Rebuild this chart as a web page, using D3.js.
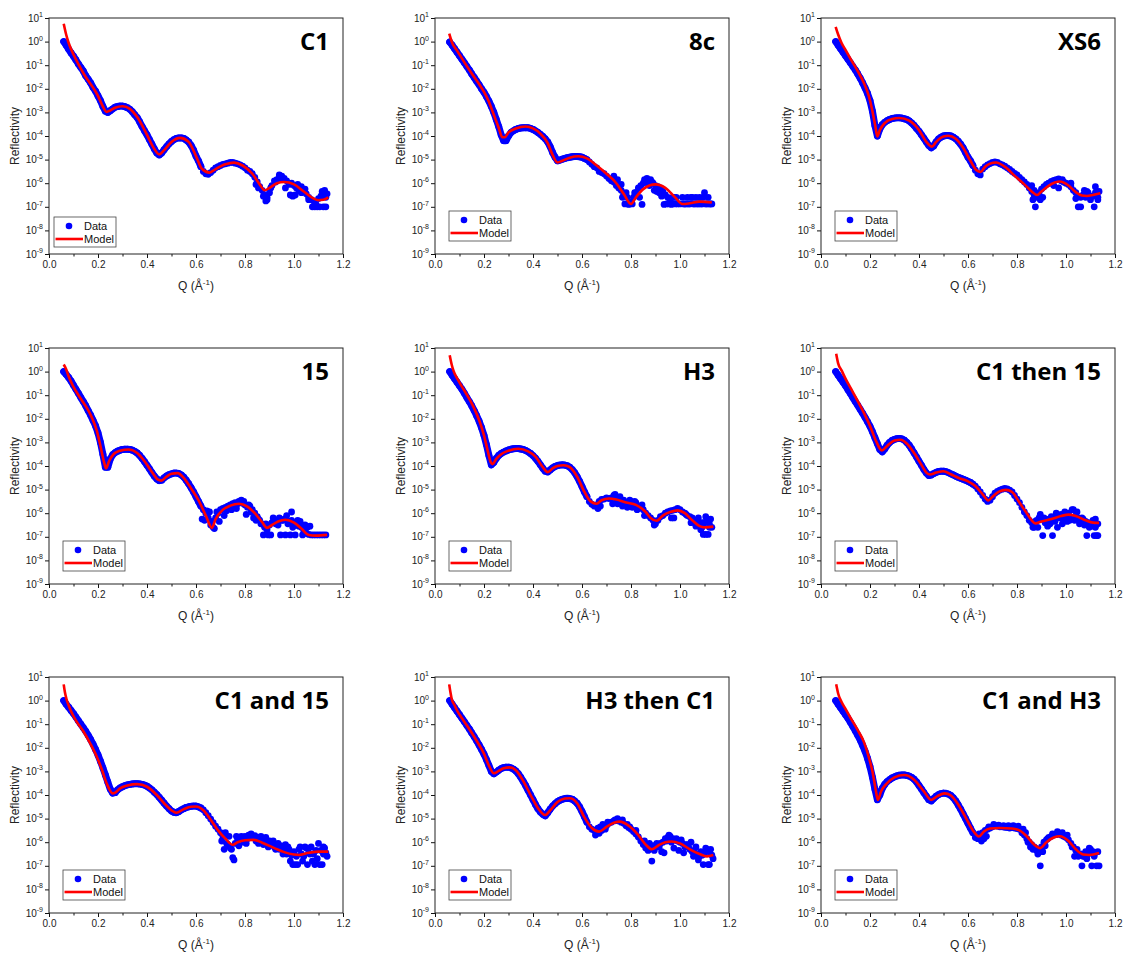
<!DOCTYPE html>
<html><head><meta charset="utf-8">
<script src="https://cdn.jsdelivr.net/npm/d3@7"></script>
<style>body{margin:0;background:#fff}</style>
</head><body><svg id="c" width="1126" height="956"></svg>
<script>
// Q grid of the data points (Å^-1)
const qGrid = [
0.06,0.07,0.08,0.09,0.10,0.11,0.12,0.13,0.14,0.15,
0.16,0.17,0.18,0.19,0.20,0.21,0.22,0.23,0.24,0.25,
0.26,0.27,0.28,0.29,0.30,0.31,0.32,0.33,0.34,0.35,
0.36,0.37,0.38,0.39,0.40,0.41,0.42,0.43,0.44,0.45,
0.46,0.47,0.48,0.49,0.50,0.51,0.52,0.53,0.54,0.55,
0.56,0.57,0.58,0.59,0.60,0.61,0.62,0.63,0.64,0.65,
0.66,0.67,0.68,0.69,0.70,0.71,0.72,0.73,0.74,0.75,
0.76,0.77,0.78,0.79,0.80,0.81,0.82,0.83,0.84,0.85,
0.86,0.87,0.88,0.89,0.90,0.91,0.92,0.93,0.94,0.95,
0.96,0.97,0.98,0.99,1.00,1.01,1.02,1.03,1.04,1.05,
1.06,1.07,1.08,1.09,1.10,1.11,1.12,1.13];

const xTicks = [0, 0.2, 0.4, 0.6, 0.8, 1.0, 1.2];
const xMinorTicks = [0.1, 0.3, 0.5, 0.7, 0.9, 1.1];
const yExponents = [1, 0, -1, -2, -3, -4, -5, -6, -7, -8, -9];

// ---- data: log10(Reflectivity) at qGrid ----
const dataC1 = [
0,-0.15,-0.32,-0.48,-0.62,-0.78,-0.95,-1.1,-1.25,-1.45,
-1.6,-1.75,-1.95,-2.1,-2.3,-2.5,-2.75,-2.95,-3.0,-2.93,
-2.85,-2.78,-2.75,-2.73,-2.73,-2.76,-2.8,-2.87,-2.97,-3.1,
-3.22,-3.4,-3.6,-3.78,-3.95,-4.15,-4.35,-4.55,-4.72,-4.8,
-4.72,-4.58,-4.45,-4.33,-4.23,-4.15,-4.1,-4.08,-4.08,-4.1,
-4.17,-4.25,-4.4,-4.6,-4.85,-5.05,-5.3,-5.5,-5.6,-5.62,
-5.55,-5.45,-5.35,-5.3,-5.25,-5.2,-5.18,-5.15,-5.12,-5.12,
-5.15,-5.18,-5.22,-5.28,-5.35,-5.45,-5.5,-5.6,-5.75,-5.95,
-6.15,-6.3,-6.5,-6.7,-6.4,-6.1,-5.9,-5.85,-5.75,-5.7,
-5.8,-5.9,-6.05,-6.0,-6.1,-6.2,-6.3,-6.4,-6.3,-6.45,
-6.6,-6.7,-6.75,-6.9,-6.65,-6.55,-6.5,-6.6];
const data8c = [
-0.02,-0.15,-0.3,-0.45,-0.6,-0.75,-0.9,-1.05,-1.2,-1.37,
-1.52,-1.68,-1.83,-2.0,-2.15,-2.33,-2.52,-2.75,-3.0,-3.3,
-3.6,-3.95,-4.2,-4.2,-4.0,-3.85,-3.78,-3.72,-3.68,-3.66,
-3.65,-3.65,-3.65,-3.68,-3.72,-3.78,-3.85,-3.93,-4.02,-4.12,
-4.25,-4.45,-4.7,-4.9,-5.05,-5.02,-4.98,-4.95,-4.92,-4.9,
-4.88,-4.87,-4.87,-4.88,-4.9,-4.95,-5.0,-5.1,-5.2,-5.3,
-5.35,-5.5,-5.55,-5.6,-5.7,-5.8,-5.9,-5.95,-6.1,-6.2,
-6.3,-6.5,-6.4,-6.9,-6.8,-6.6,-6.4,-6.2,-6.1,-6.0,
-5.95,-5.9,-5.85,-6.0,-6.1,-6.15,-6.2,-6.35,-6.5,-6.6,
-6.75,-6.6,-6.88,-6.88,-6.88,-6.6,-6.88,-6.6,-6.88,-6.6,
-6.88,-6.88,-6.6,-6.88,-6.4,-6.88,-6.88,-6.88];
const dataXS6 = [
0.0,-0.15,-0.3,-0.45,-0.6,-0.75,-0.9,-1.05,-1.2,-1.37,
-1.55,-1.75,-1.97,-2.2,-2.5,-2.95,-3.55,-4.0,-3.7,-3.52,
-3.42,-3.35,-3.3,-3.26,-3.24,-3.23,-3.23,-3.24,-3.27,-3.3,
-3.36,-3.45,-3.55,-3.68,-3.8,-3.95,-4.1,-4.25,-4.4,-4.5,
-4.42,-4.25,-4.12,-4.05,-4.0,-3.98,-3.98,-4.0,-4.05,-4.12,
-4.22,-4.35,-4.5,-4.7,-4.9,-5.05,-5.25,-5.45,-5.6,-5.65,
-5.4,-5.3,-5.22,-5.17,-5.12,-5.1,-5.12,-5.18,-5.22,-5.28,
-5.35,-5.42,-5.5,-5.58,-5.65,-5.75,-5.85,-5.95,-6.05,-6.2,
-6.35,-6.5,-6.6,-6.4,-6.25,-6.15,-6.05,-6.0,-5.92,-5.88,
-5.85,-5.82,-5.9,-5.95,-6.0,-6.05,-6.15,-6.3,-6.4,-6.55,
-6.6,-6.5,-6.6,-6.4,-6.7,-6.55,-6.4,-6.6];
const data15 = [
0.0,-0.12,-0.25,-0.4,-0.58,-0.75,-0.92,-1.1,-1.27,-1.45,
-1.65,-1.85,-2.07,-2.3,-2.6,-3.0,-3.5,-4.05,-4.05,-3.7,
-3.52,-3.43,-3.37,-3.33,-3.3,-3.29,-3.29,-3.3,-3.33,-3.38,
-3.45,-3.55,-3.68,-3.82,-3.97,-4.12,-4.28,-4.43,-4.55,-4.62,
-4.6,-4.5,-4.42,-4.37,-4.33,-4.3,-4.3,-4.32,-4.38,-4.47,
-4.6,-4.75,-4.92,-5.1,-5.3,-5.5,-5.7,-5.85,-6.0,-6.2,
-6.5,-6.6,-6.2,-6.0,-5.85,-5.8,-5.75,-5.7,-5.65,-5.6,
-5.55,-5.6,-5.5,-5.58,-5.65,-5.75,-5.7,-5.85,-6.0,-6.15,
-6.3,-6.45,-6.6,-6.7,-6.5,-6.4,-6.3,-6.35,-6.2,-6.3,
-6.25,-6.1,-6.35,-6.3,-6.4,-6.5,-6.55,-6.6,-6.75,-6.85,
-6.9,-6.92,-6.92,-6.92,-6.92,-6.92,-6.92,-6.92];
const dataH3 = [
0.0,-0.15,-0.3,-0.45,-0.6,-0.75,-0.92,-1.1,-1.27,-1.45,
-1.65,-1.87,-2.1,-2.38,-2.7,-3.1,-3.55,-3.95,-3.85,-3.68,
-3.55,-3.47,-3.41,-3.36,-3.32,-3.29,-3.27,-3.26,-3.26,-3.28,
-3.3,-3.34,-3.4,-3.47,-3.56,-3.67,-3.8,-3.95,-4.1,-4.22,
-4.25,-4.17,-4.08,-4.02,-3.98,-3.96,-3.95,-3.96,-3.99,-4.05,
-4.15,-4.28,-4.45,-4.65,-4.87,-5.1,-5.3,-5.5,-5.62,-5.7,
-5.65,-5.5,-5.42,-5.4,-5.35,-5.38,-5.35,-5.25,-5.4,-5.42,
-5.5,-5.45,-5.55,-5.6,-5.5,-5.62,-5.55,-5.7,-5.75,-5.85,
-6.0,-6.1,-6.2,-6.3,-6.45,-6.3,-6.15,-6.1,-6.0,-5.95,
-5.9,-5.88,-5.85,-5.8,-5.85,-5.95,-6.0,-6.1,-6.15,-6.2,
-6.3,-6.45,-6.5,-6.6,-6.4,-6.3,-6.45,-6.6];
const dataC1then15 = [
0.0,-0.15,-0.3,-0.45,-0.6,-0.77,-0.93,-1.1,-1.27,-1.43,
-1.6,-1.77,-1.95,-2.13,-2.32,-2.55,-2.8,-3.05,-3.3,-3.4,
-3.28,-3.12,-3.0,-2.92,-2.87,-2.84,-2.83,-2.85,-2.9,-3.0,
-3.12,-3.28,-3.45,-3.62,-3.8,-3.97,-4.15,-4.3,-4.4,-4.38,
-4.32,-4.27,-4.23,-4.22,-4.22,-4.24,-4.28,-4.33,-4.38,-4.43,
-4.48,-4.52,-4.56,-4.6,-4.65,-4.7,-4.77,-4.85,-4.97,-5.1,
-5.25,-5.4,-5.5,-5.45,-5.3,-5.15,-5.08,-5.02,-4.98,-4.95,
-4.97,-5.02,-5.1,-5.25,-5.4,-5.55,-5.75,-5.95,-6.1,-6.3,
-6.4,-6.6,-6.3,-6.2,-6.25,-6.2,-6.3,-6.25,-6.15,-6.2,
-6.0,-6.1,-6.05,-6.2,-6.1,-6.0,-6.25,-5.85,-6.1,-6.2,
-6.3,-6.25,-6.35,-6.4,-6.5,-6.3,-6.6,-6.45];
const dataC1and15 = [
0.0,-0.15,-0.28,-0.42,-0.55,-0.7,-0.85,-1.0,-1.15,-1.3,
-1.47,-1.65,-1.85,-2.07,-2.3,-2.57,-2.85,-3.15,-3.45,-3.75,
-3.92,-3.9,-3.78,-3.7,-3.65,-3.6,-3.57,-3.55,-3.53,-3.52,
-3.52,-3.53,-3.55,-3.58,-3.63,-3.7,-3.78,-3.88,-3.98,-4.1,
-4.22,-4.35,-4.47,-4.58,-4.68,-4.73,-4.75,-4.7,-4.63,-4.58,
-4.53,-4.5,-4.48,-4.47,-4.47,-4.5,-4.55,-4.63,-4.75,-4.88,
-5.02,-5.17,-5.32,-5.45,-5.6,-5.75,-5.6,-6.1,-6.25,-6.65,
-6.05,-5.9,-5.85,-5.8,-5.75,-5.85,-5.7,-5.8,-5.72,-5.8,
-5.9,-5.85,-5.95,-6.05,-5.95,-6.1,-6.2,-6.1,-6.3,-6.25,
-6.4,-6.5,-6.3,-6.55,-6.4,-6.6,-6.3,-6.5,-6.6,-6.25,
-6.45,-6.2,-6.5,-6.35,-6.05,-6.35,-6.2,-6.45];
const dataH3thenC1 = [
0.0,-0.15,-0.3,-0.45,-0.6,-0.75,-0.9,-1.05,-1.2,-1.37,
-1.53,-1.7,-1.88,-2.07,-2.27,-2.5,-2.75,-3.0,-3.1,-3.03,
-2.95,-2.88,-2.84,-2.82,-2.82,-2.85,-2.9,-2.98,-3.1,-3.25,
-3.42,-3.6,-3.8,-4.0,-4.2,-4.4,-4.58,-4.72,-4.82,-4.88,
-4.75,-4.6,-4.47,-4.37,-4.28,-4.22,-4.18,-4.15,-4.14,-4.15,
-4.18,-4.25,-4.35,-4.5,-4.7,-4.92,-5.15,-5.35,-5.45,-5.5,
-5.6,-5.62,-5.5,-5.35,-5.3,-5.2,-5.15,-5.1,-5.08,-5.1,
-5.15,-5.2,-5.3,-5.38,-5.45,-5.55,-5.65,-5.78,-5.95,-6.1,
-6.25,-6.35,-6.25,-6.15,-6.2,-6.1,-6.05,-6.0,-5.85,-5.8,
-5.75,-5.85,-5.9,-5.95,-6.0,-6.05,-6.2,-6.1,-6.3,-6.4,
-6.45,-6.5,-6.6,-6.55,-6.5,-6.3,-6.4,-6.55];
const dataC1andH3 = [
0.0,-0.15,-0.3,-0.45,-0.6,-0.75,-0.92,-1.1,-1.28,-1.47,
-1.67,-1.9,-2.15,-2.45,-2.8,-3.25,-3.75,-4.2,-4.0,-3.72,
-3.55,-3.43,-3.35,-3.28,-3.23,-3.19,-3.16,-3.15,-3.15,-3.17,
-3.2,-3.25,-3.33,-3.45,-3.6,-3.75,-3.9,-4.05,-4.2,-4.25,
-4.15,-4.05,-3.98,-3.94,-3.92,-3.93,-3.96,-4.02,-4.12,-4.25,
-4.42,-4.6,-4.8,-5.0,-5.2,-5.4,-5.6,-5.8,-5.85,-5.8,
-5.6,-5.5,-5.45,-5.4,-5.35,-5.3,-5.32,-5.35,-5.35,-5.37,
-5.38,-5.4,-5.38,-5.4,-5.42,-5.45,-5.6,-5.7,-5.85,-6.0,
-6.1,-6.2,-6.35,-6.3,-6.2,-6.0,-5.9,-5.8,-5.75,-5.7,
-5.68,-5.65,-5.7,-5.75,-5.8,-5.9,-6.05,-6.2,-6.35,-6.6,
-6.5,-6.6,-6.4,-6.5,-6.3,-6.4,-6.45,-6.4];

// ---- extra scattered data points [Q, log10 R] ----
const extraC1 = [[0.845,-6.05],[0.855,-6.2],[0.875,-6.55],[0.885,-6.75],[0.89,-6.6],[0.905,-6.2],[0.925,-5.95],[0.94,-5.65],[0.95,-5.8],[0.965,-6.2],[0.985,-6.5],[0.995,-6.55],[1.005,-6.5],[1.015,-6.05],[1.03,-6.15],[1.045,-6.25],[1.06,-6.7],[1.075,-7.0],[1.085,-7.0],[1.095,-7.0],[1.105,-7.0],[1.12,-7.0],[1.13,-7.0],[1.115,-6.35],[1.125,-6.3],[1.135,-6.45]];
const extra8c = [[0.73,-5.7],[0.745,-5.85],[0.76,-6.05],[0.765,-6.6],[0.775,-6.88],[0.785,-6.6],[0.795,-6.88],[0.805,-6.88],[0.815,-6.4],[0.835,-6.6],[0.845,-6.9],[0.855,-5.85],[0.865,-5.8],[0.875,-6.1],[0.885,-5.95],[0.895,-6.3],[0.905,-6.35],[0.915,-6.4],[0.925,-6.55],[0.935,-6.9],[0.945,-6.88],[0.955,-6.88],[0.965,-6.9],[0.975,-6.6],[0.985,-6.6],[1.015,-6.88],[1.025,-6.88],[1.035,-6.88],[1.045,-6.6],[1.055,-6.88],[1.065,-6.6],[1.075,-6.88],[1.085,-6.88],[1.095,-6.6],[1.105,-6.88],[1.115,-6.6],[1.125,-6.88]];
const extraXS6 = [[0.86,-6.1],[0.865,-6.7],[0.87,-6.3],[0.875,-7.0],[0.885,-6.45],[0.895,-6.7],[0.905,-6.6],[0.93,-6.0],[0.95,-6.1],[0.97,-6.2],[0.985,-5.85],[1.02,-6.0],[1.04,-6.65],[1.05,-7.0],[1.06,-7.0],[1.075,-6.3],[1.085,-6.35],[1.1,-6.55],[1.115,-7.0],[1.12,-6.15],[1.13,-6.7],[1.135,-6.35]];
const extra15 = [[0.625,-6.25],[0.635,-6.3],[0.645,-5.9],[0.655,-5.95],[0.665,-6.35],[0.675,-6.65],[0.685,-5.95],[0.695,-6.35],[0.705,-5.85],[0.715,-6.1],[0.725,-5.9],[0.735,-5.75],[0.745,-5.85],[0.755,-5.7],[0.765,-5.8],[0.775,-5.5],[0.785,-5.45],[0.795,-5.5],[0.805,-6.05],[0.815,-5.65],[0.825,-5.95],[0.835,-6.2],[0.845,-6.3],[0.855,-6.25],[0.865,-6.45],[0.875,-6.92],[0.885,-6.45],[0.895,-6.92],[0.905,-6.92],[0.915,-6.2],[0.925,-6.45],[0.935,-6.5],[0.945,-6.92],[0.955,-6.3],[0.965,-6.92],[0.975,-6.45],[0.985,-6.92],[0.99,-5.95],[0.995,-6.6],[1.005,-6.92],[1.015,-6.3],[1.025,-6.35],[1.035,-6.92],[1.045,-6.5],[1.055,-6.6],[1.065,-6.55]];
const extraH3 = [[0.665,-5.8],[0.675,-5.7],[0.725,-5.6],[0.735,-5.2],[0.745,-5.6],[0.755,-5.3],[0.765,-5.7],[0.785,-5.75],[0.795,-5.45],[0.805,-5.75],[0.815,-5.5],[0.825,-5.85],[0.845,-5.65],[0.855,-6.1],[0.895,-6.5],[0.965,-6.2],[0.975,-6.2],[1.025,-6.05],[1.045,-6.4],[1.055,-6.35],[1.065,-6.55],[1.075,-6.2],[1.085,-6.7],[1.09,-6.4],[1.095,-6.9],[1.105,-6.9],[1.105,-6.15],[1.115,-6.9],[1.12,-6.6],[1.125,-6.25]];
const extraC1then15 = [[0.865,-6.6],[0.875,-6.35],[0.885,-6.6],[0.895,-6.05],[0.905,-6.95],[0.915,-6.4],[0.925,-6.55],[0.935,-6.45],[0.945,-6.95],[0.955,-6.35],[0.965,-6.6],[0.975,-6.2],[0.985,-6.45],[0.995,-5.95],[1.005,-6.35],[1.015,-6.3],[1.025,-5.85],[1.035,-6.3],[1.045,-5.95],[1.055,-6.45],[1.065,-6.2],[1.075,-6.5],[1.085,-6.95],[1.095,-6.6],[1.105,-6.55],[1.115,-6.95],[1.12,-6.25],[1.125,-6.95],[1.13,-6.95]];
const extraC1and15 = [[0.705,-5.95],[0.715,-6.3],[0.725,-6.05],[0.735,-5.75],[0.745,-6.3],[0.755,-6.75],[0.765,-5.75],[0.775,-6.15],[0.785,-5.75],[0.795,-6.0],[0.805,-6.05],[0.815,-5.7],[0.825,-5.65],[0.845,-5.95],[0.855,-6.05],[0.865,-5.75],[0.875,-6.1],[0.885,-5.8],[0.895,-6.2],[0.905,-6.05],[0.915,-5.95],[0.925,-6.3],[0.935,-6.05],[0.945,-6.15],[0.955,-6.5],[0.965,-6.1],[0.975,-6.2],[0.985,-6.8],[0.995,-6.95],[1.005,-6.95],[1.015,-6.95],[1.025,-6.2],[1.035,-6.8],[1.045,-6.2],[1.055,-6.95],[1.065,-6.5],[1.075,-6.8],[1.085,-6.95],[1.095,-6.7],[1.105,-6.95],[1.115,-6.95],[1.12,-6.5],[1.125,-6.25],[1.135,-6.6]];
const extraH3thenC1 = [[0.655,-5.7],[0.665,-5.4],[0.675,-5.35],[0.685,-5.25],[0.695,-5.45],[0.705,-5.15],[0.735,-5.05],[0.745,-5.0],[0.765,-5.05],[0.785,-5.25],[0.795,-5.35],[0.82,-5.5],[0.855,-5.95],[0.865,-6.2],[0.875,-6.05],[0.885,-6.8],[0.895,-6.35],[0.905,-6.05],[0.915,-6.2],[0.925,-6.4],[0.935,-6.45],[0.945,-5.95],[0.955,-5.7],[0.965,-6.0],[0.975,-6.25],[0.985,-5.85],[0.995,-6.35],[1.005,-5.9],[1.015,-6.45],[1.025,-6.1],[1.035,-6.2],[1.045,-6.0],[1.055,-6.6],[1.065,-6.2],[1.075,-6.75],[1.085,-6.4],[1.095,-6.95],[1.105,-6.25],[1.115,-6.95],[1.12,-6.95],[1.125,-6.3],[1.135,-6.7]];
const extraC1andH3 = [[0.645,-5.65],[0.655,-5.95],[0.665,-5.85],[0.675,-5.75],[0.685,-5.35],[0.705,-5.25],[0.725,-5.28],[0.745,-5.3],[0.765,-5.3],[0.785,-5.3],[0.805,-5.32],[0.825,-5.45],[0.835,-5.6],[0.845,-6.0],[0.855,-6.2],[0.865,-6.3],[0.875,-6.25],[0.885,-6.5],[0.895,-7.0],[0.905,-6.4],[0.915,-6.15],[0.925,-5.85],[0.945,-5.65],[0.965,-5.55],[0.985,-5.6],[1.005,-5.7],[1.025,-6.2],[1.035,-6.6],[1.045,-6.3],[1.055,-6.55],[1.065,-7.0],[1.075,-6.6],[1.085,-6.7],[1.095,-6.25],[1.105,-7.0],[1.115,-6.6],[1.125,-7.0],[1.135,-7.0]];

// ---- model curves [Q, log10 R] ----
const modelC1 = [[0.06,0.76],[0.07,0.3],[0.08,-0.05],[0.10,-0.55],[0.12,-0.95],[0.15,-1.5],[0.18,-1.95],[0.20,-2.3],[0.22,-2.75],[0.235,-2.98],[0.25,-2.92],[0.27,-2.80],[0.30,-2.74],[0.33,-2.85],[0.36,-3.2],[0.40,-3.95],[0.43,-4.55],[0.45,-4.78],[0.47,-4.6],[0.50,-4.25],[0.535,-4.08],[0.57,-4.25],[0.60,-4.85],[0.625,-5.4],[0.655,-5.55],[0.68,-5.4],[0.72,-5.2],[0.755,-5.13],[0.79,-5.25],[0.83,-5.6],[0.86,-6.05],[0.88,-6.3],[0.90,-6.2],[0.93,-6.0],[0.96,-5.95],[1.00,-6.05],[1.04,-6.35],[1.08,-6.65],[1.10,-6.72],[1.12,-6.7],[1.14,-6.6]];
const model8c = [[0.058,0.34],[0.065,0.1],[0.07,-0.05],[0.09,-0.38],[0.12,-0.88],[0.15,-1.35],[0.18,-1.8],[0.20,-2.13],[0.22,-2.55],[0.24,-3.1],[0.26,-3.65],[0.275,-4.05],[0.285,-4.05],[0.30,-3.85],[0.33,-3.68],[0.37,-3.6],[0.40,-3.68],[0.43,-3.9],[0.46,-4.3],[0.48,-4.8],[0.50,-5.12],[0.52,-5.05],[0.55,-4.92],[0.585,-4.86],[0.62,-4.95],[0.66,-5.25],[0.70,-5.6],[0.74,-6.0],[0.77,-6.45],[0.80,-6.88],[0.82,-6.6],[0.85,-6.25],[0.90,-6.05],[0.94,-6.2],[0.98,-6.6],[1.01,-6.88],[1.04,-6.85],[1.08,-6.78],[1.13,-6.82]];
const modelXS6 = [[0.06,0.62],[0.07,0.3],[0.084,-0.06],[0.10,-0.35],[0.12,-0.72],[0.15,-1.25],[0.175,-1.75],[0.195,-2.3],[0.21,-2.95],[0.222,-3.6],[0.23,-4.02],[0.24,-3.75],[0.26,-3.45],[0.29,-3.28],[0.32,-3.24],[0.36,-3.35],[0.40,-3.75],[0.43,-4.25],[0.453,-4.45],[0.47,-4.25],[0.50,-4.02],[0.52,-3.99],[0.55,-4.12],[0.58,-4.5],[0.61,-5.05],[0.635,-5.45],[0.652,-5.52],[0.67,-5.3],[0.69,-5.17],[0.715,-5.12],[0.75,-5.3],[0.79,-5.68],[0.83,-6.05],[0.86,-6.35],[0.882,-6.5],[0.90,-6.35],[0.93,-6.1],[0.975,-5.93],[1.01,-6.1],[1.04,-6.38],[1.065,-6.52],[1.085,-6.54],[1.11,-6.5],[1.14,-6.43]];
const model15 = [[0.06,0.3],[0.07,0.1],[0.08,-0.2],[0.10,-0.65],[0.13,-1.15],[0.155,-1.55],[0.175,-1.95],[0.195,-2.5],[0.21,-3.15],[0.225,-3.85],[0.233,-4.1],[0.245,-3.8],[0.265,-3.48],[0.29,-3.35],[0.325,-3.3],[0.36,-3.45],[0.39,-3.8],[0.42,-4.25],[0.445,-4.58],[0.458,-4.62],[0.48,-4.45],[0.50,-4.33],[0.525,-4.3],[0.55,-4.5],[0.58,-4.95],[0.61,-5.45],[0.64,-6.1],[0.665,-6.62],[0.68,-6.25],[0.71,-5.85],[0.74,-5.68],[0.775,-5.6],[0.81,-5.72],[0.84,-6.0],[0.87,-6.38],[0.89,-6.62],[0.91,-6.5],[0.935,-6.35],[0.965,-6.28],[1.00,-6.4],[1.03,-6.65],[1.06,-6.92],[1.09,-6.95],[1.135,-6.92]];
const modelH3 = [[0.06,0.69],[0.068,0.3],[0.075,0.05],[0.09,-0.28],[0.105,-0.55],[0.13,-0.98],[0.155,-1.45],[0.18,-2.05],[0.20,-2.7],[0.215,-3.35],[0.228,-3.85],[0.235,-3.92],[0.25,-3.7],[0.27,-3.5],[0.30,-3.35],[0.34,-3.27],[0.38,-3.38],[0.41,-3.6],[0.44,-4.05],[0.46,-4.26],[0.48,-4.1],[0.50,-4.0],[0.525,-3.97],[0.55,-4.05],[0.58,-4.45],[0.61,-5.1],[0.635,-5.5],[0.66,-5.6],[0.68,-5.45],[0.71,-5.38],[0.74,-5.42],[0.78,-5.55],[0.82,-5.65],[0.86,-5.95],[0.88,-6.2],[0.905,-6.32],[0.93,-6.1],[0.96,-5.95],[0.99,-5.88],[1.02,-6.0],[1.05,-6.3],[1.08,-6.55],[1.10,-6.6],[1.136,-6.57]];
const modelC1then15 = [[0.062,0.76],[0.07,0.35],[0.084,0.05],[0.10,-0.3],[0.12,-0.68],[0.15,-1.25],[0.175,-1.75],[0.20,-2.3],[0.225,-2.95],[0.248,-3.34],[0.27,-3.15],[0.30,-2.92],[0.325,-2.89],[0.35,-3.05],[0.38,-3.45],[0.41,-3.95],[0.43,-4.28],[0.445,-4.36],[0.47,-4.28],[0.50,-4.22],[0.53,-4.35],[0.56,-4.5],[0.60,-4.65],[0.63,-4.85],[0.66,-5.2],[0.683,-5.46],[0.70,-5.3],[0.725,-5.1],[0.755,-5.01],[0.78,-5.1],[0.81,-5.55],[0.84,-6.0],[0.86,-6.3],[0.875,-6.43],[0.90,-6.35],[0.94,-6.25],[0.98,-6.12],[1.01,-6.06],[1.04,-6.12],[1.08,-6.3],[1.11,-6.4],[1.135,-6.41]];
const modelC1and15 = [[0.06,0.69],[0.065,0.35],[0.071,0.08],[0.08,-0.2],[0.09,-0.45],[0.11,-0.85],[0.14,-1.3],[0.17,-1.85],[0.195,-2.38],[0.215,-2.9],[0.235,-3.5],[0.26,-3.93],[0.27,-3.9],[0.29,-3.72],[0.32,-3.6],[0.36,-3.54],[0.40,-3.65],[0.44,-4.0],[0.47,-4.35],[0.50,-4.65],[0.52,-4.75],[0.55,-4.6],[0.58,-4.5],[0.60,-4.49],[0.63,-4.65],[0.66,-5.05],[0.69,-5.5],[0.72,-5.85],[0.75,-6.11],[0.77,-6.0],[0.80,-5.92],[0.835,-5.9],[0.87,-6.02],[0.92,-6.25],[0.96,-6.42],[1.00,-6.52],[1.02,-6.54],[1.06,-6.45],[1.10,-6.4],[1.14,-6.4]];
const modelH3thenC1 = [[0.058,0.69],[0.063,0.35],[0.068,0.08],[0.08,-0.2],[0.09,-0.42],[0.11,-0.75],[0.14,-1.2],[0.17,-1.7],[0.20,-2.25],[0.22,-2.75],[0.24,-3.08],[0.26,-2.98],[0.28,-2.87],[0.305,-2.83],[0.33,-2.95],[0.36,-3.4],[0.39,-4.0],[0.42,-4.55],[0.45,-4.85],[0.47,-4.65],[0.50,-4.3],[0.53,-4.15],[0.55,-4.14],[0.58,-4.35],[0.61,-4.95],[0.64,-5.4],[0.67,-5.55],[0.70,-5.35],[0.73,-5.18],[0.755,-5.13],[0.79,-5.3],[0.83,-5.7],[0.86,-6.1],[0.885,-6.3],[0.91,-6.15],[0.94,-6.0],[0.965,-5.97],[1.00,-6.05],[1.04,-6.3],[1.08,-6.5],[1.11,-6.6],[1.136,-6.54]];
const modelC1andH3 = [[0.062,0.69],[0.07,0.3],[0.084,-0.06],[0.10,-0.35],[0.12,-0.72],[0.15,-1.25],[0.175,-1.75],[0.198,-2.5],[0.21,-3.0],[0.222,-3.7],[0.232,-4.21],[0.245,-3.85],[0.265,-3.55],[0.30,-3.25],[0.34,-3.15],[0.38,-3.35],[0.42,-3.85],[0.45,-4.21],[0.475,-4.05],[0.505,-3.93],[0.53,-4.02],[0.56,-4.4],[0.59,-4.95],[0.62,-5.5],[0.645,-5.76],[0.665,-5.55],[0.69,-5.42],[0.73,-5.4],[0.78,-5.42],[0.81,-5.5],[0.84,-5.75],[0.87,-6.1],[0.895,-6.25],[0.92,-6.0],[0.95,-5.8],[0.975,-5.75],[1.01,-5.95],[1.04,-6.3],[1.07,-6.52],[1.095,-6.54],[1.135,-6.46]];

const panelTitles = ["C1","8c","XS6","15","H3","C1 then 15","C1 and 15","H3 then C1","C1 and H3"];
const panelData = [dataC1,data8c,dataXS6,data15,dataH3,dataC1then15,dataC1and15,dataH3thenC1,dataC1andH3];
const panelExtra = [extraC1,extra8c,extraXS6,extra15,extraH3,extraC1then15,extraC1and15,extraH3thenC1,extraC1andH3];
const panelModel = [modelC1,model8c,modelXS6,model15,modelH3,modelC1then15,modelC1and15,modelH3thenC1,modelC1andH3];
const legendLabels = ["Data","Model"];

// ---- layout ----
const colX = [49, 435, 821], rowY = [18, 348, 677];
const W = 294, H = 236;
const svg = d3.select("#c");
const FONT = "'Liberation Sans', Arial, sans-serif";
const BLUE = "#0000ff", RED = "#ff0000";
const BAND_MAX_Q = 0.62; // dense, low-noise part of each data set drawn as a continuous band of markers

const x = d3.scaleLinear().domain([0, 1.2]).range([0, W]);
const y = d3.scaleLog().domain([1e-9, 1e1]).range([H, 0]);

panelTitles.forEach((title, i) => {
  const gx = colX[i % 3], gy = rowY[Math.floor(i / 3)];
  const g = svg.append("g").attr("transform", `translate(${gx},${gy})`);
  const clipId = "clip" + i;
  g.append("clipPath").attr("id", clipId).append("rect").attr("width", W).attr("height", H);

  // minor x ticks
  g.append("g").attr("transform", `translate(0,${H})`)
    .call(d3.axisBottom(x).tickValues(xMinorTicks).tickSize(2.5).tickFormat(""))
    .call(a => a.select(".domain").remove())
    .call(a => a.selectAll("line").attr("stroke", "#111"));
  // major x ticks
  const xa = g.append("g").attr("transform", `translate(0,${H})`)
    .call(d3.axisBottom(x).tickValues(xTicks).tickSize(4).tickPadding(3).tickFormat(d3.format(".1f")));
  xa.select(".domain").remove();
  xa.selectAll("text").attr("font-family", FONT).attr("font-size", 10).attr("fill", "#222");
  xa.selectAll("line").attr("stroke", "#111");

  // y ticks
  const ya = g.append("g")
    .call(d3.axisLeft(y).tickValues(yExponents.map(e => Math.pow(10, e))).tickSize(4).tickFormat(""));
  ya.select(".domain").remove();
  ya.selectAll("line").attr("stroke", "#111");
  const yl = g.append("g");
  yExponents.forEach(e => {
    const t = yl.append("text").attr("x", -6).attr("y", y(Math.pow(10, e)) + 3.5)
      .attr("text-anchor", "end").attr("font-family", FONT).attr("font-size", 10).attr("fill", "#222");
    t.append("tspan").text("10");
    t.append("tspan").attr("dy", -4.5).attr("font-size", 7).text(String(e));
  });

  const plot = g.append("g").attr("clip-path", `url(#${clipId})`);
  const main = qGrid.map((q, k) => [q, panelData[i][k]]);
  const px = d => x(d[0]), py = d => y(Math.pow(10, d[1]));
  // dense marker band (measured points are much denser than the listed grid)
  plot.append("path").attr("d", d3.line().x(px).y(py)(main.filter(d => d[0] <= BAND_MAX_Q)))
    .attr("fill", "none").attr("stroke", BLUE).attr("stroke-width", 7)
    .attr("stroke-linejoin", "round").attr("stroke-linecap", "round");
  // data points
  const pts = main.concat(panelExtra[i]);
  plot.selectAll("circle").data(pts).join("circle")
    .attr("cx", px).attr("cy", py).attr("r", 3.4).attr("fill", BLUE);
  // model
  const line = d3.line().x(px).y(py).curve(d3.curveMonotoneX);
  plot.append("path").attr("d", line(panelModel[i])).attr("fill", "none")
    .attr("stroke", RED).attr("stroke-width", 2.6).attr("stroke-linejoin", "round");

  // frame
  g.append("rect").attr("width", W).attr("height", H).attr("fill", "none")
    .attr("stroke", "#222").attr("stroke-width", 1);

  // title
  g.append("text").attr("x", W - 14).attr("y", 32).attr("text-anchor", "end")
    .attr("font-family", "'Open Sans', sans-serif").attr("font-weight", 700)
    .attr("font-size", 24).attr("fill", "#000").text(title);

  // axis titles
  g.append("text").attr("transform", `translate(-30,${H / 2}) rotate(-90)`)
    .attr("text-anchor", "middle").attr("font-family", FONT).attr("font-size", 12)
    .attr("fill", "#222").text("Reflectivity");
  const qt = g.append("text").attr("x", W / 2).attr("y", H + 36).attr("text-anchor", "middle")
    .attr("font-family", FONT).attr("font-size", 12).attr("fill", "#222");
  qt.append("tspan").text("Q (Å");
  qt.append("tspan").attr("dy", -5).attr("font-size", 8).text("-1");
  qt.append("tspan").attr("dy", 5).text(")");

  // legend
  const lx = i === 0 ? 5 : 14, ly = i === 0 ? 199 : 193;
  const lg = g.append("g").attr("transform", `translate(${lx},${ly})`);
  lg.append("rect").attr("width", 62).attr("height", 30).attr("fill", "#fff")
    .attr("stroke", "#444").attr("stroke-width", 0.8);
  lg.append("circle").attr("cx", 15).attr("cy", 9).attr("r", 3.3).attr("fill", BLUE);
  lg.append("line").attr("x1", 1.5).attr("x2", 29).attr("y1", 22).attr("y2", 22)
    .attr("stroke", RED).attr("stroke-width", 2.6);
  lg.selectAll("text.lab").data(legendLabels).join("text").attr("class", "lab")
    .attr("x", 30).attr("y", (d, k) => 13 + k * 13)
    .attr("font-family", FONT).attr("font-size", 11).attr("fill", "#111").text(d => d);
});
</script></body></html>
